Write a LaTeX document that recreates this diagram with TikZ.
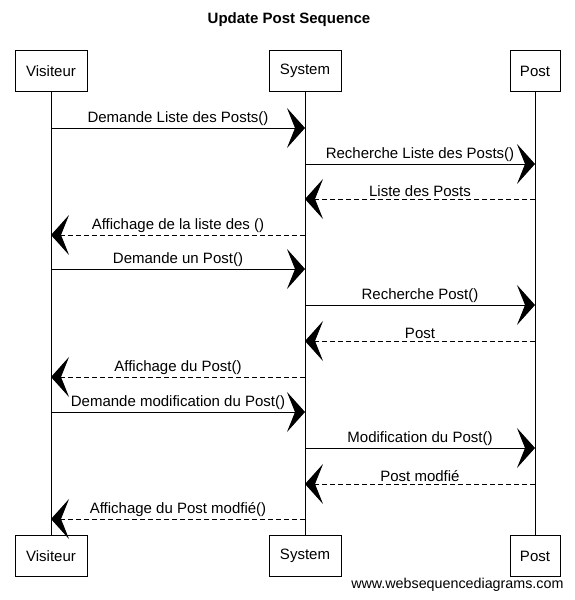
\documentclass[tikz,border=0pt]{standalone}
\usepackage{fontspec}
\setmainfont{Liberation Sans}
\usetikzlibrary{arrows.meta}
\begin{document}
\begin{tikzpicture}[x=1pt,y=-1pt,
  actor/.style={draw,line width=0.8pt,minimum height=41pt,inner sep=0pt,font=\fontsize{15}{17}\selectfont},
  life/.style={line width=0.7pt},
  msg/.style={line width=1pt,-{Stealth[length=18pt,width=40pt,inset=8pt]}},
  ret/.style={msg,dash pattern=on 5pt off 3pt},
  lbl/.style={above,inner sep=2pt,font=\fontsize{15}{17}\selectfont}]
\useasboundingbox (0,0) rectangle (575,600);
\node[font=\bfseries\fontsize{15}{17}\selectfont] (title) at (289,20) {Update Post Sequence};
\node[actor,minimum width=72pt] (vt) at (51,71) {Visiteur};
\node[actor,minimum width=72pt] (st) at (305,71) {System};
\node[actor,minimum width=50pt] (pt) at (535,71) {Post};
\node[actor,minimum width=72pt] (vb) at (51,556) {Visiteur};
\node[actor,minimum width=72pt] (sb) at (305,556) {System};
\node[actor,minimum width=50pt] (pb) at (535,556) {Post};
\draw[life] (vt) -- (vb);
\draw[life] (st) -- (sb);
\draw[life] (pt) -- (pb);
\draw[msg] (vt.south |- 0,128) -- node[lbl]{Demande Liste des Posts()} (st.south |- 0,128);
\draw[msg] (st.south |- 0,164) -- node[lbl]{Recherche Liste des Posts()} (pt.south |- 0,164);
\draw[ret] (pt.south |- 0,199) -- node[lbl]{Liste des Posts} (st.south |- 0,199);
\draw[ret] (st.south |- 0,235) -- node[lbl]{Affichage de la liste des ()} (vt.south |- 0,235);
\draw[msg] (vt.south |- 0,269) -- node[lbl]{Demande un Post()} (st.south |- 0,269);
\draw[msg] (st.south |- 0,305) -- node[lbl]{Recherche Post()} (pt.south |- 0,305);
\draw[ret] (pt.south |- 0,341) -- node[lbl]{Post} (st.south |- 0,341);
\draw[ret] (st.south |- 0,377) -- node[lbl]{Affichage du Post()} (vt.south |- 0,377);
\draw[msg] (vt.south |- 0,412) -- node[lbl]{Demande modification du Post()} (st.south |- 0,412);
\draw[msg] (st.south |- 0,448) -- node[lbl]{Modification du Post()} (pt.south |- 0,448);
\draw[ret] (pt.south |- 0,484) -- node[lbl]{Post modfié} (st.south |- 0,484);
\draw[ret] (st.south |- 0,519) -- node[lbl]{Affichage du Post modfié()} (vt.south |- 0,519);
\node[anchor=east,font=\fontsize{14.3}{16}\selectfont] (wm) at (567,585) {www.websequencediagrams.com};
\end{tikzpicture}
\end{document}
